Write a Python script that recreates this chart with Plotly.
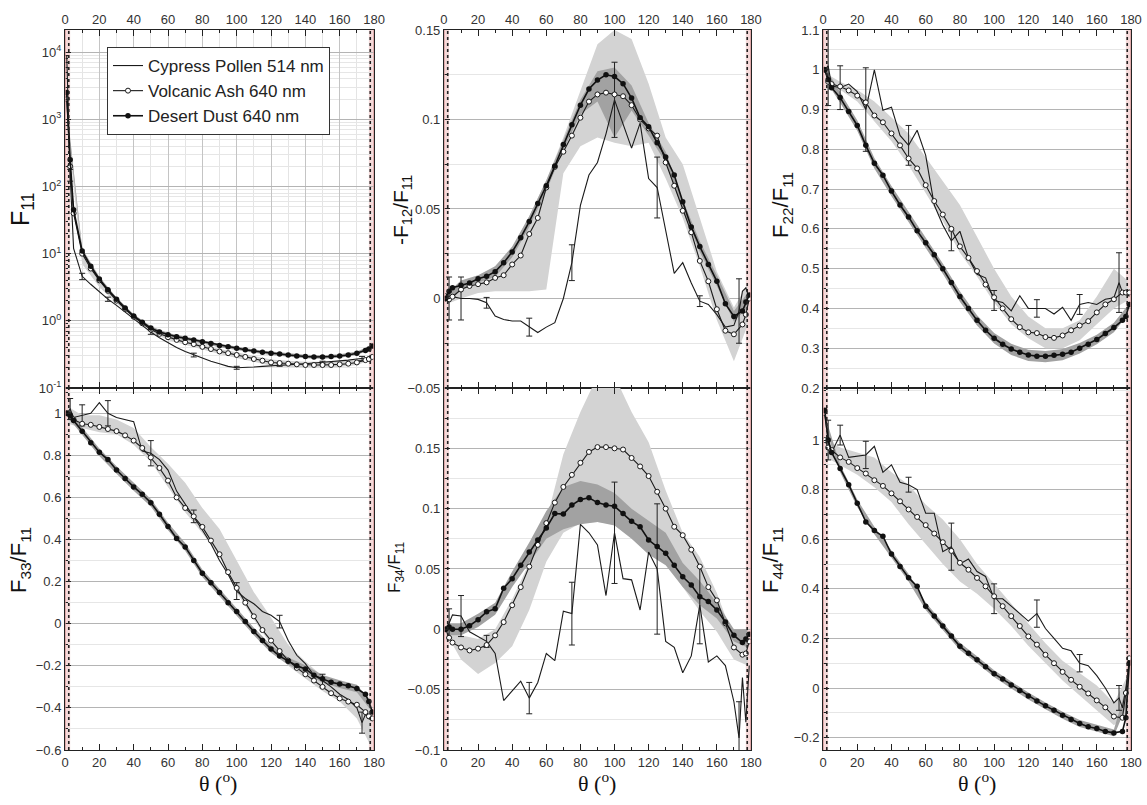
import plotly.graph_objects as go

# ---------------- data ----------------
ANGLES = [1, 3, 5, 10, 15, 20, 25, 30, 35, 40, 45, 50, 55, 60, 65, 70, 75, 80, 85, 90, 95, 100,
          105, 110, 115, 120, 125, 130, 135, 140, 145, 150, 155, 160, 165, 170, 175, 177, 179]
POLLEN_ANGLES = [1, 3, 5, 10, 15, 20, 25, 30, 35, 40, 45, 50, 55, 60, 65, 70, 75, 80, 85, 90, 95, 100,
                 105, 110, 115, 120, 125, 130, 135, 140, 145, 150, 155, 160, 165, 170, 173, 175, 177, 179]
BAND_ANGLES = [2, 10, 20, 30, 40, 50, 60, 70, 80, 90, 100, 110, 120, 130, 140, 150, 160, 170, 178]
ERR_ANGLES = [3, 10, 25, 50, 75, 100, 125, 150, 173]

LEGEND_NAMES = ["Cypress Pollen 514 nm", "Volcanic Ash 640 nm", "Desert Dust 640 nm"]

# F11
F11_DUST = [2500, 250, 45, 11, 6.5, 4.2, 2.9, 2.1, 1.55, 1.18, 0.95, 0.78, 0.68, 0.62, 0.58, 0.55, 0.52, 0.49,
            0.46, 0.43, 0.41, 0.39, 0.37, 0.355, 0.34, 0.33, 0.32, 0.31, 0.3, 0.295, 0.29, 0.29, 0.295, 0.3,
            0.31, 0.33, 0.36, 0.38, 0.42]
F11_ASH = [2000, 200, 40, 10, 6.0, 4.0, 2.8, 2.0, 1.5, 1.15, 0.92, 0.74, 0.64, 0.57, 0.52, 0.48, 0.45, 0.41,
           0.38, 0.35, 0.33, 0.31, 0.29, 0.27, 0.255, 0.24, 0.235, 0.23, 0.225, 0.22, 0.22, 0.22, 0.22, 0.225,
           0.23, 0.24, 0.26, 0.27, 0.29]
F11_POLLEN = [9000, 150, 12, 4.6, 3.5, 2.7, 2.1, 1.7, 1.35, 1.1, 0.87, 0.68, 0.56, 0.47, 0.4, 0.35, 0.31, 0.28,
              0.25, 0.23, 0.21, 0.2, 0.2, 0.205, 0.21, 0.215, 0.22, 0.22, 0.225, 0.23, 0.235, 0.24, 0.245, 0.25,
              0.26, 0.27, 0.275, 0.28, 0.29, 0.3]
F11_ASH_LO = [500, 7, 3.2, 1.8, 1.05, 0.68, 0.52, 0.44, 0.375, 0.32, 0.28, 0.245, 0.215, 0.205, 0.2, 0.2, 0.205, 0.22, 0.26]
F11_ASH_HI = [900, 12, 4.6, 2.2, 1.25, 0.8, 0.62, 0.52, 0.45, 0.38, 0.34, 0.3, 0.265, 0.255, 0.245, 0.245, 0.25, 0.26, 0.3]
F11_DUST_LO = [700, 10.2, 3.95, 1.98, 1.11, 0.73, 0.58, 0.52, 0.46, 0.405, 0.365, 0.335, 0.31, 0.29, 0.278, 0.272, 0.282, 0.31, 0.375]
F11_DUST_HI = [900, 11.8, 4.45, 2.22, 1.25, 0.83, 0.66, 0.58, 0.52, 0.455, 0.415, 0.375, 0.35, 0.33, 0.312, 0.308, 0.318, 0.35, 0.425]
F11_ERR = [30, 0.5, 0.15, 0.05, 0.02, 0.01, 0.01, 0.01, 0.02]

# -F12/F11
F12_DUST = [0.0, 0.004, 0.006, 0.0074, 0.0087, 0.011, 0.0124, 0.015, 0.02, 0.026, 0.034, 0.043, 0.053, 0.063,
            0.074, 0.086, 0.097, 0.108, 0.117, 0.122, 0.125, 0.124, 0.12, 0.112, 0.101, 0.096, 0.087, 0.079,
            0.069, 0.054, 0.04, 0.029, 0.019, 0.0096, -0.003, -0.01, -0.007, -0.002, 0.002]
F12_ASH = [0.0, -0.0005, 0.001, 0.005, 0.007, 0.008, 0.009, 0.0115, 0.013, 0.019, 0.024, 0.036, 0.045, 0.062,
           0.0735, 0.082, 0.091, 0.101, 0.11, 0.114, 0.115, 0.114, 0.113, 0.108, 0.1, 0.095, 0.091, 0.076, 0.063,
           0.049, 0.037, 0.021, 0.0096, -0.006, -0.018, -0.02, -0.0145, -0.009, 0.0]
F12_POLLEN = [0.003, 0.0, 0.001, 0.0, 0.0, -0.0005, -0.0024, -0.0098, -0.0117, -0.0126, -0.0126, -0.016, -0.019,
              -0.016, -0.0135, 0.0, 0.02, 0.052, 0.069, 0.076, 0.092, 0.111, 0.097, 0.084, 0.098, 0.067, 0.062,
              0.039, 0.014, 0.02, 0.0087, -0.0015, -0.0033, -0.009, -0.016, -0.015, -0.007, 0.004, 0.006, 0.0]
F12_ASH_LO = [-0.003, 0.0, 0.003, 0.004, 0.004, 0.004, 0.005, 0.07, 0.085, 0.09, 0.087, 0.085, 0.087, 0.067, 0.045, 0.018, -0.012, -0.035, -0.015]
F12_ASH_HI = [0.003, 0.006, 0.012, 0.018, 0.028, 0.046, 0.066, 0.09, 0.116, 0.142, 0.15, 0.145, 0.12, 0.09, 0.075, 0.045, 0.015, -0.005, 0.008]
F12_DUST_LO = [-0.003, 0.005, 0.009, 0.012, 0.023, 0.04, 0.06, 0.083, 0.103, 0.11, 0.09, 0.105, 0.091, 0.076, 0.049, 0.026, 0.007, -0.013, -0.005]
F12_DUST_HI = [0.003, 0.01, 0.013, 0.018, 0.029, 0.046, 0.066, 0.089, 0.111, 0.127, 0.129, 0.119, 0.098, 0.082, 0.055, 0.032, 0.013, -0.007, 0.003]
F12_ERR = [0.012, 0.012, 0.003, 0.005, 0.01, 0.021, 0.017, 0.003, 0.018]

# F22/F11
F22_DUST = [1.0, 0.975, 0.955, 0.93, 0.895, 0.86, 0.81, 0.765, 0.735, 0.695, 0.66, 0.63, 0.595, 0.565, 0.535,
            0.5, 0.465, 0.43, 0.4, 0.37, 0.345, 0.325, 0.31, 0.298, 0.29, 0.283, 0.28, 0.28, 0.282, 0.285, 0.29,
            0.3, 0.31, 0.322, 0.337, 0.352, 0.37, 0.38, 0.41]
F22_ASH = [1.0, 0.97, 0.964, 0.958, 0.948, 0.935, 0.918, 0.885, 0.868, 0.84, 0.81, 0.777, 0.752, 0.71, 0.67,
           0.636, 0.6, 0.556, 0.527, 0.494, 0.46, 0.428, 0.4, 0.373, 0.353, 0.34, 0.338, 0.328, 0.326, 0.332,
           0.345, 0.357, 0.368, 0.39, 0.41, 0.423, 0.44, 0.44, 0.44]
F22_POLLEN = [1.0, 1.01, 0.96, 0.955, 0.964, 0.945, 0.9, 1.0, 0.898, 0.906, 0.835, 0.81, 0.848, 0.785, 0.66,
              0.61, 0.57, 0.594, 0.527, 0.486, 0.477, 0.42, 0.415, 0.394, 0.432, 0.4, 0.4, 0.4, 0.386, 0.403,
              0.37, 0.41, 0.415, 0.41, 0.423, 0.427, 0.465, 0.44, 0.44, 0.43]
F22_ASH_LO = [0.95, 0.95, 0.92, 0.87, 0.82, 0.76, 0.69, 0.62, 0.54, 0.48, 0.415, 0.36, 0.325, 0.3, 0.3, 0.32, 0.36, 0.4, 0.42]
F22_ASH_HI = [0.99, 0.97, 0.95, 0.92, 0.88, 0.84, 0.78, 0.72, 0.66, 0.58, 0.5, 0.43, 0.38, 0.35, 0.35, 0.37, 0.43, 0.5, 0.47]
F22_DUST_LO = [0.97, 0.917, 0.847, 0.752, 0.682, 0.617, 0.552, 0.487, 0.417, 0.357, 0.312, 0.283, 0.268, 0.265, 0.27, 0.287, 0.31, 0.34, 0.383]
F22_DUST_HI = [1.0, 0.943, 0.873, 0.778, 0.708, 0.643, 0.578, 0.513, 0.443, 0.383, 0.338, 0.311, 0.296, 0.293, 0.298, 0.313, 0.334, 0.364, 0.407]
F22_ERR = [0.1, 0.055, 0.105, 0.05, 0.025, 0.025, 0.022, 0.025, 0.075]

# F33/F11
F33_DUST = [1.0, 0.99, 0.965, 0.915, 0.86, 0.815, 0.78, 0.73, 0.69, 0.65, 0.615, 0.575, 0.52, 0.462, 0.405,
            0.365, 0.3, 0.24, 0.195, 0.148, 0.1, 0.058, 0.01, -0.037, -0.08, -0.12, -0.154, -0.178, -0.2, -0.215,
            -0.245, -0.262, -0.278, -0.287, -0.295, -0.308, -0.335, -0.37, -0.42]
F33_ASH = [1.0, 0.99, 0.97, 0.95, 0.945, 0.935, 0.925, 0.915, 0.895, 0.87, 0.835, 0.79, 0.74, 0.68, 0.6, 0.55,
           0.51, 0.46, 0.395, 0.33, 0.245, 0.17, 0.1, 0.035, -0.03, -0.08, -0.13, -0.175, -0.21, -0.24, -0.27,
           -0.3, -0.33, -0.355, -0.37, -0.385, -0.42, -0.44, -0.45]
F33_POLLEN = [1.0, 1.02, 0.98, 0.99, 1.0, 1.05, 1.0, 0.98, 0.97, 0.96, 0.82, 0.81, 0.78, 0.73, 0.63, 0.57, 0.51,
              0.445, 0.38, 0.3, 0.235, 0.155, 0.12, 0.095, 0.058, 0.04, 0.01, -0.08, -0.15, -0.19, -0.245, -0.27,
              -0.3, -0.335, -0.36, -0.4, -0.47, -0.43, -0.45, -0.44]
F33_ASH_LO = [0.95, 0.93, 0.91, 0.9, 0.85, 0.77, 0.65, 0.53, 0.43, 0.32, 0.15, 0.02, -0.1, -0.2, -0.26, -0.32, -0.37, -0.45, -0.58]
F33_ASH_HI = [1.03, 0.99, 0.99, 0.97, 0.93, 0.84, 0.76, 0.67, 0.55, 0.45, 0.3, 0.15, 0.03, -0.1, -0.18, -0.25, -0.3, -0.3, -0.36]
F33_DUST_LO = [0.977, 0.897, 0.797, 0.712, 0.632, 0.557, 0.444, 0.347, 0.222, 0.13, 0.04, -0.055, -0.138, -0.196, -0.233, -0.28, -0.305, -0.326, -0.41]
F33_DUST_HI = [1.013, 0.933, 0.833, 0.748, 0.668, 0.593, 0.48, 0.383, 0.258, 0.166, 0.076, -0.019, -0.102, -0.16, -0.197, -0.244, -0.269, -0.29, -0.37]
F33_ERR = [0.05, 0.05, 0.06, 0.06, 0.03, 0.04, 0.03, 0.03, 0.05]

# F34/F11
F34_DUST = [0.0, 0.002, 0.0, 0.0, 0.003, 0.008, 0.0145, 0.017, 0.034, 0.042, 0.053, 0.064, 0.074, 0.084, 0.096,
            0.0955, 0.103, 0.1075, 0.109, 0.105, 0.103, 0.102, 0.096, 0.0895, 0.085, 0.074, 0.0686, 0.063, 0.053,
            0.0436, 0.0367, 0.027, 0.023, 0.016, 0.006, -0.005, -0.011, -0.008, -0.004]
F34_ASH = [0.0, -0.007, -0.011, -0.015, -0.0175, -0.016, -0.013, -0.005, 0.006, 0.02, 0.035, 0.052, 0.07, 0.088,
           0.105, 0.118, 0.128, 0.138, 0.147, 0.151, 0.151, 0.15, 0.149, 0.142, 0.135, 0.127, 0.114, 0.1, 0.085,
           0.078, 0.066, 0.052, 0.035, 0.024, 0.005, -0.015, -0.021, -0.02, -0.01]
F34_POLLEN = [0.0, 0.005, 0.012, 0.011, -0.002, -0.006, -0.01, -0.02, -0.059, -0.051, -0.043, -0.057, -0.044,
              -0.02, -0.026, 0.015, 0.013, 0.087, 0.08, 0.07, 0.028, 0.08, 0.042, 0.041, 0.016, 0.064, 0.05,
              -0.01, -0.015, -0.036, -0.022, 0.02, -0.027, -0.022, -0.03, -0.06, -0.09, -0.04, -0.077, -0.03]
F34_ASH_LO = [-0.005, -0.025, -0.037, -0.028, -0.014, 0.016, 0.056, 0.08, 0.088, 0.089, 0.087, 0.08, 0.07, 0.055, 0.035, 0.015, -0.002, -0.025, -0.03]
F34_ASH_HI = [0.005, -0.005, -0.008, 0.0, 0.025, 0.055, 0.09, 0.145, 0.18, 0.21, 0.21, 0.18, 0.155, 0.115, 0.08, 0.06, 0.03, -0.008, -0.005]
F34_DUST_LO = [-0.005, -0.005, 0.002, 0.012, 0.035, 0.055, 0.075, 0.083, 0.087, 0.089, 0.086, 0.075, 0.062, 0.053, 0.035, 0.02, 0.009, -0.01, -0.015]
F34_DUST_HI = [0.005, 0.005, 0.013, 0.022, 0.048, 0.072, 0.098, 0.118, 0.123, 0.12, 0.113, 0.1, 0.09, 0.08, 0.055, 0.04, 0.022, 0.0, 0.0]
F34_ERR = [0.012, 0.017, 0.005, 0.013, 0.026, 0.042, 0.054, 0.032, 0.03]

# F44/F11
F44_DUST = [1.12, 1.0, 0.95, 0.885, 0.82, 0.745, 0.67, 0.635, 0.612, 0.54, 0.49, 0.445, 0.41, 0.33, 0.29, 0.25,
            0.21, 0.168, 0.14, 0.114, 0.086, 0.058, 0.036, 0.012, -0.01, -0.032, -0.052, -0.072, -0.09, -0.11,
            -0.127, -0.143, -0.156, -0.163, -0.175, -0.181, -0.175, -0.12, 0.1]
F44_ASH = [1.0, 0.97, 0.96, 0.93, 0.912, 0.887, 0.865, 0.838, 0.815, 0.785, 0.753, 0.72, 0.69, 0.657, 0.623,
           0.588, 0.553, 0.505, 0.477, 0.444, 0.41, 0.37, 0.33, 0.29, 0.25, 0.208, 0.175, 0.134, 0.1, 0.065,
           0.033, 0.005, -0.022, -0.05, -0.078, -0.115, -0.12, -0.02, 0.12]
F44_POLLEN = [1.1, 1.0, 0.95, 1.02, 0.93, 0.935, 0.94, 0.975, 0.87, 0.9, 0.83, 0.82, 0.8, 0.705, 0.705, 0.55,
              0.57, 0.5, 0.52, 0.47, 0.45, 0.36, 0.36, 0.33, 0.3, 0.27, 0.3, 0.24, 0.2, 0.16, 0.15, 0.1, 0.09,
              0.05, 0.0, -0.06, -0.04, -0.08, 0.0, 0.1]
F44_ASH_LO = [0.93, 0.9, 0.86, 0.81, 0.75, 0.66, 0.58, 0.5, 0.43, 0.38, 0.32, 0.25, 0.17, 0.1, 0.03, -0.03, -0.09, -0.15, -0.1]
F44_ASH_HI = [1.0, 0.97, 0.95, 0.93, 0.87, 0.82, 0.74, 0.68, 0.6, 0.5, 0.42, 0.34, 0.26, 0.18, 0.11, 0.06, 0.01, -0.06, 0.05]
F44_DUST_LO = [1.04, 0.87, 0.73, 0.62, 0.525, 0.43, 0.315, 0.235, 0.153, 0.1, 0.044, -0.002, -0.046, -0.086, -0.124, -0.157, -0.177, -0.195, -0.06]
F44_DUST_HI = [1.08, 0.9, 0.76, 0.65, 0.555, 0.46, 0.345, 0.265, 0.183, 0.128, 0.072, 0.026, -0.018, -0.058, -0.096, -0.129, -0.149, -0.167, 0.02]
F44_ERR = [0.08, 0.04, 0.055, 0.03, 0.095, 0.06, 0.055, 0.035, 0.05]

Y_TITLES = ["F<sub>11</sub>", "-F<sub>12</sub>/F<sub>11</sub>", "F<sub>22</sub>/F<sub>11</sub>",
            "F<sub>33</sub>/F<sub>11</sub>", "F<sub>34</sub>/F<sub>11</sub>", "F<sub>44</sub>/F<sub>11</sub>"]
X_TITLE = "θ (<sup>o</sup>)"
X_TICKS = [0, 20, 40, 60, 80, 100, 120, 140, 160, 180]

# ---------------- layout geometry ----------------
W, H = 1147, 805
ML, MR, MT, MB = 65, 16, 30, 55
PW, PH = W - ML - MR, H - MT - MB
XDOM = [[0.0, 0.2899], [0.3555, 0.6435], [0.7111, 1.0]]
YDOM_TOP = [0.5028, 1.0]
YDOM_BOT = [0.0, 0.5028]

LIGHT = "#d3d3d3"
DARK = "#a2a2a2"
SANS = "Liberation Sans, Arial, sans-serif"

panels = [
    dict(ash=F11_ASH, dust=F11_DUST, pol=F11_POLLEN, alo=F11_ASH_LO, ahi=F11_ASH_HI,
         dlo=F11_DUST_LO, dhi=F11_DUST_HI, err=F11_ERR, col=0, row=0),
    dict(ash=F12_ASH, dust=F12_DUST, pol=F12_POLLEN, alo=F12_ASH_LO, ahi=F12_ASH_HI,
         dlo=F12_DUST_LO, dhi=F12_DUST_HI, err=F12_ERR, col=1, row=0),
    dict(ash=F22_ASH, dust=F22_DUST, pol=F22_POLLEN, alo=F22_ASH_LO, ahi=F22_ASH_HI,
         dlo=F22_DUST_LO, dhi=F22_DUST_HI, err=F22_ERR, col=2, row=0),
    dict(ash=F33_ASH, dust=F33_DUST, pol=F33_POLLEN, alo=F33_ASH_LO, ahi=F33_ASH_HI,
         dlo=F33_DUST_LO, dhi=F33_DUST_HI, err=F33_ERR, col=0, row=1),
    dict(ash=F34_ASH, dust=F34_DUST, pol=F34_POLLEN, alo=F34_ASH_LO, ahi=F34_ASH_HI,
         dlo=F34_DUST_LO, dhi=F34_DUST_HI, err=F34_ERR, col=1, row=1),
    dict(ash=F44_ASH, dust=F44_DUST, pol=F44_POLLEN, alo=F44_ASH_LO, ahi=F44_ASH_HI,
         dlo=F44_DUST_LO, dhi=F44_DUST_HI, err=F44_ERR, col=2, row=1),
]

y_specs = [
    dict(type="log", range=[-1, 4.33],
         tickvals=[0.1, 1, 10, 100, 1000, 10000],
         ticktext=["10<sup>-1</sup>", "10<sup>0</sup>", "10<sup>1</sup>", "10<sup>2</sup>", "10<sup>3</sup>", "10<sup>4</sup>"],
         minorvals=[m * 10 ** e for e in range(-1, 4) for m in range(2, 10)]),
    dict(range=[-0.05, 0.15], dtick=0.05, minor=0.025),
    dict(range=[0.2, 1.1], dtick=0.1, minor=0.05),
    dict(range=[-0.6, 1.12], tickvals=[-0.6, -0.4, -0.2, 0, 0.2, 0.4, 0.6, 0.8, 1.0], minor=0.1),
    dict(range=[-0.1, 0.2], tickvals=[-0.1, -0.05, 0, 0.05, 0.1, 0.15], minor=0.025),
    dict(range=[-0.25, 1.21], tickvals=[-0.2, 0, 0.2, 0.4, 0.6, 0.8, 1.0], minor=0.1),
]

fig = go.Figure()
shapes = []
annotations = []

for i, p in enumerate(panels):
    sfx = "" if i == 0 else str(i + 1)
    xa, ya = "x" + sfx, "y" + sfx
    first = i == 0

    # uncertainty bands
    fig.add_trace(go.Scatter(x=BAND_ANGLES, y=p["alo"], mode="lines", line=dict(width=0, color=LIGHT),
                             xaxis=xa, yaxis=ya, showlegend=False, hoverinfo="skip"))
    fig.add_trace(go.Scatter(x=BAND_ANGLES, y=p["ahi"], mode="lines", line=dict(width=0, color=LIGHT),
                             fill="tonexty", fillcolor=LIGHT, xaxis=xa, yaxis=ya, showlegend=False,
                             hoverinfo="skip"))
    fig.add_trace(go.Scatter(x=BAND_ANGLES, y=p["dlo"], mode="lines", line=dict(width=0, color=DARK),
                             xaxis=xa, yaxis=ya, showlegend=False, hoverinfo="skip"))
    fig.add_trace(go.Scatter(x=BAND_ANGLES, y=p["dhi"], mode="lines", line=dict(width=0, color=DARK),
                             fill="tonexty", fillcolor=DARK, xaxis=xa, yaxis=ya, showlegend=False,
                             hoverinfo="skip"))

    # pollen
    fig.add_trace(go.Scatter(x=POLLEN_ANGLES, y=p["pol"], mode="lines", name=LEGEND_NAMES[0],
                             line=dict(color="#1a1a1a", width=1.1), xaxis=xa, yaxis=ya,
                             showlegend=first))
    err_y = [p["pol"][POLLEN_ANGLES.index(a)] for a in ERR_ANGLES]
    fig.add_trace(go.Scatter(x=ERR_ANGLES, y=err_y, mode="markers",
                             marker=dict(size=2, color="rgba(0,0,0,0)"),
                             error_y=dict(type="data", array=p["err"], color="#222", thickness=1, width=3),
                             xaxis=xa, yaxis=ya, showlegend=False, hoverinfo="skip"))
    # volcanic ash
    fig.add_trace(go.Scatter(x=ANGLES, y=p["ash"], mode="lines+markers", name=LEGEND_NAMES[1],
                             line=dict(color="#1a1a1a", width=1.1),
                             marker=dict(symbol="circle", size=5, color="white",
                                         line=dict(color="#1a1a1a", width=1)),
                             xaxis=xa, yaxis=ya, showlegend=first))
    # desert dust
    fig.add_trace(go.Scatter(x=ANGLES, y=p["dust"], mode="lines+markers", name=LEGEND_NAMES[2],
                             line=dict(color="#111", width=1.6),
                             marker=dict(symbol="circle", size=5.5, color="#111"),
                             xaxis=xa, yaxis=ya, showlegend=first))

    # axes
    top = p["row"] == 0
    xkw = dict(domain=XDOM[p["col"]], anchor=ya, range=[0, 180], tickvals=X_TICKS, automargin=False,
               side="top" if top else "bottom", ticks="inside", ticklen=6, tickcolor="#222",
               showline=True, linecolor="#222", linewidth=1, mirror="ticks",
               tickfont=dict(family=SANS, size=13, color="#333"),
               minor=dict(dtick=10, tick0=0, ticks="inside", ticklen=3, tickcolor="#222",
                          showgrid=(i == 0), gridcolor="#e4e4e4"),
               showgrid=(i == 0), gridcolor="#c4c4c4", zeroline=False)
    spec = y_specs[i]
    ykw = dict(domain=YDOM_TOP if top else YDOM_BOT, anchor=xa, range=spec["range"], automargin=False,
               ticks="inside", ticklen=6, tickcolor="#222", showline=True, linecolor="#222",
               linewidth=1, mirror=True, tickfont=dict(family=SANS, size=13, color="#333"),
               showgrid=True, gridcolor="#b4b4b4", zeroline=False)
    if spec.get("type") == "log":
        ykw.update(type="log", tickvals=spec["tickvals"], ticktext=spec["ticktext"],
                   minor=dict(tickvals=spec["minorvals"], ticks="inside", ticklen=3, tickcolor="#222",
                              showgrid=True, gridcolor="#e6e6e6"))
    else:
        if "tickvals" in spec:
            ykw.update(tickvals=spec["tickvals"])
        else:
            ykw.update(tick0=0, dtick=spec["dtick"])
        ykw.update(minor=dict(tick0=0, dtick=spec["minor"], ticks="inside", ticklen=3, tickcolor="#222",
                              showgrid=True, gridcolor="#e6e6e6"))
    fig.layout["xaxis" + sfx] = xkw
    fig.layout["yaxis" + sfx] = ykw

    # excluded angular ranges (pink) and dotted limits
    for x0, x1, xd in [(0, 3, 2.2), (177, 180, 177.8)]:
        shapes.append(dict(type="rect", xref=xa, yref=ya + " domain", x0=x0, x1=x1, y0=0, y1=1,
                           fillcolor="rgba(232,170,170,0.45)", line=dict(width=0), layer="below"))
        shapes.append(dict(type="line", xref=xa, yref=ya + " domain", x0=xd, x1=xd, y0=0, y1=1,
                           line=dict(color="#222", width=1.6, dash="dot"), layer="above"))
    for xe in [0, 180]:
        shapes.append(dict(type="line", xref=xa, yref=ya + " domain", x0=xe, x1=xe, y0=0, y1=1,
                           line=dict(color="#d99a9a", width=1.5), layer="above"))

# y-axis titles (pixel positions converted to paper coords)
title_pos = [(22, 210, 25), (402, 210, 21), (782, 205, 22), (20, 560, 22), (396, 568, 17), (772, 560, 22)]
for txt, (px, py, fs) in zip(Y_TITLES, title_pos):
    annotations.append(dict(text=txt, xref="paper", yref="paper", x=(px - ML) / PW, y=(MT + PH - py) / PH,
                            xanchor="center", yanchor="middle", textangle=-90, showarrow=False,
                            font=dict(family=SANS, size=fs, color="#111")))
for px in [218, 597, 977]:
    annotations.append(dict(text=X_TITLE, xref="paper", yref="paper", x=(px - ML) / PW,
                            y=(MT + PH - 782) / PH, xanchor="center", yanchor="middle", showarrow=False,
                            font=dict(family="Liberation Serif, Times New Roman, serif", size=22, color="#111")))

fig.update_layout(
    width=W, height=H, margin=dict(l=ML, r=MR, t=MT, b=MB, autoexpand=False),
    plot_bgcolor="white", paper_bgcolor="white",
    shapes=shapes, annotations=annotations,
    legend=dict(x=(107 - ML) / PW, y=1 - (47 - MT) / PH, xanchor="left", yanchor="top",
                traceorder="normal", bgcolor="white", bordercolor="#333", borderwidth=1,
                font=dict(family=SANS, size=17, color="#222"), tracegroupgap=0),
)

fig.write_html("out.html", config={"displayModeBar": False},
               post_script="document.body.style.margin='0';document.body.style.overflow='hidden';")
